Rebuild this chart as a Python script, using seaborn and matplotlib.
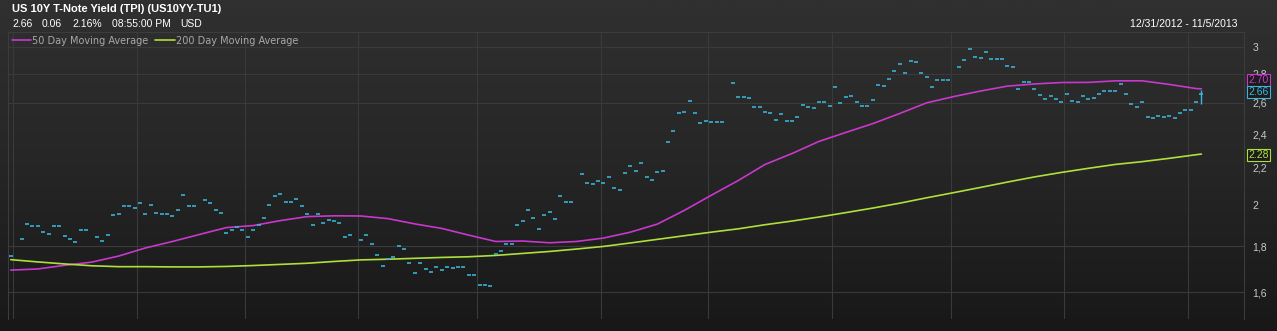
import numpy as np
import pandas as pd
import matplotlib
matplotlib.use("Agg")
import matplotlib.pyplot as plt
import matplotlib.ticker as mticker
import matplotlib.transforms as mtrans
from matplotlib.colors import LinearSegmentedColormap
import seaborn as sns

NAN = np.nan

# ---------------- data ----------------
START = "2012-12-31"
END = "2013-11-05"
title = "US 10Y T-Note Yield (TPI) (US10YY-TU1)"
quote_items = ["2.66", "0.06", "2.16%", "08:55:00 PM", "USD"]
date_range_text = "12/31/2012 - 11/5/2013"

# daily closes, one per weekday (NaN = market holiday)
yield_close = [
    1.755, NAN, 1.834, 1.905, 1.896, 1.896, 1.867, 1.857, 1.896, 1.896,
    1.846, 1.834, 1.820, 1.876, 1.876, NAN, 1.843, 1.824, 1.852, 1.951,
    1.956, 1.998, 1.994, 1.983, 2.011, 1.956, 2.000, 1.960, 1.954, 1.954,
    1.943, 1.973, 2.053, 1.998, 1.998, NAN, 2.025, 2.011, 1.975, 1.960,
    1.864, 1.878, 1.892, 1.878, 1.843, 1.878, 1.900, 1.933, 2.000, 2.046,
    2.059, 2.017, 2.017, 2.033, 1.994, 1.954, 1.902, 1.954, 1.912, 1.925,
    1.920, 1.912, 1.843, 1.854, NAN, 1.829, 1.852, 1.810, 1.762, 1.710,
    1.740, 1.751, 1.801, 1.788, 1.726, 1.680, 1.726, 1.699, 1.684, 1.706,
    1.693, 1.706, 1.703, 1.706, 1.706, 1.673, 1.673, 1.631, 1.631, 1.624,
    1.765, 1.780, 1.810, 1.810, 1.900, 1.921, 1.975, 1.935, 1.881, 1.951,
    1.966, 1.928, 2.045, 2.017, 2.017, NAN, 2.165, 2.117, 2.110, 2.126,
    2.117, 2.149, 2.091, 2.079, 2.171, 2.210, 2.181, 2.227, 2.149, 2.131,
    2.175, 2.181, 2.352, 2.417, 2.533, 2.537, 2.610, 2.533, 2.467, 2.484,
    2.475, 2.475, 2.475, NAN, 2.739, 2.637, 2.637, 2.633, 2.571, 2.571,
    2.537, 2.533, 2.487, 2.527, 2.481, 2.481, 2.508, 2.583, 2.572, 2.564,
    2.604, 2.608, 2.577, 2.708, 2.598, 2.639, 2.644, 2.604, 2.581, 2.577,
    2.617, 2.719, 2.712, 2.762, 2.820, 2.876, 2.807, 2.896, 2.884, 2.809,
    2.780, 2.708, 2.760, 2.760, 2.760, NAN, 2.848, 2.900, 2.985, 2.926,
    2.914, 2.962, 2.906, 2.906, 2.906, 2.860, 2.848, 2.694, 2.746, 2.746,
    2.694, 2.653, 2.627, 2.645, 2.623, 2.605, 2.658, 2.615, 2.605, 2.645,
    2.623, 2.632, 2.662, 2.678, 2.678, 2.683, 2.729, 2.658, 2.590, 2.575,
    2.605, 2.510, 2.499, 2.516, 2.510, 2.516, 2.499, 2.533, 2.551, 2.551,
    2.605, 2.660,
]
last_low = 2.590
last_high = 2.685

# moving averages read weekly (weekday index -> value)
ma_idx = [0, 5, 10, 15, 20, 25, 30, 35, 40, 45, 50, 55, 60, 65, 70, 75, 80,
          85, 90, 95, 100, 105, 110, 115, 120, 125, 130, 135, 140, 145, 150,
          155, 160, 165, 170, 175, 180, 185, 190, 195, 200, 205, 210, 215,
          220, 221]
ma50 = [1.693, 1.698, 1.714, 1.728, 1.755, 1.792, 1.822, 1.855, 1.888, 1.898,
        1.922, 1.942, 1.946, 1.945, 1.932, 1.906, 1.884, 1.852, 1.822, 1.824,
        1.816, 1.822, 1.838, 1.866, 1.905, 1.973, 2.051, 2.130, 2.220, 2.283,
        2.355, 2.410, 2.465, 2.530, 2.600, 2.642, 2.680, 2.714, 2.729, 2.739,
        2.740, 2.751, 2.751, 2.726, 2.697, 2.695]
ma200 = [1.739, 1.729, 1.720, 1.712, 1.708, 1.708, 1.707, 1.707, 1.709, 1.713,
         1.718, 1.723, 1.731, 1.738, 1.741, 1.745, 1.749, 1.752, 1.758, 1.767,
         1.776, 1.787, 1.799, 1.815, 1.832, 1.849, 1.866, 1.882, 1.902, 1.920,
         1.940, 1.962, 1.985, 2.010, 2.038, 2.065, 2.093, 2.122, 2.150, 2.175,
         2.198, 2.220, 2.236, 2.255, 2.276, 2.280]

ytick_vals = [1.6, 1.8, 2.0, 2.2, 2.4, 2.6, 2.8, 3.0]
ytick_labels = ["1,6", "1,8", "2", "2,2", "2,4", "2,6", "2,8", "3"]
hgrid_vals = [1.6, 1.8, 2.6, 2.8, 3.0]

badge_texts = ["2.70", "2.66", "2.28"]
badge_values = [2.70, 2.66, 2.28]

# ---------------- style ----------------
CYAN = "#3ab6dc"
MAGENTA = "#c838cc"
GREEN = "#aee03c"
GRID = "#3a3a3a"

sns.set_theme(style="dark")
plt.rcParams["font.family"] = ["Liberation Sans", "DejaVu Sans"]

W, H = 1277, 331
fig = plt.figure(figsize=(W / 100, H / 100), dpi=100)

bg = fig.add_axes([0, 0, 1, 1], zorder=-10)
grad = np.linspace(0, 1, 256).reshape(-1, 1)
bg.imshow(grad, aspect="auto", cmap=LinearSegmentedColormap.from_list(
    "bg", ["#303030", "#262626", "#181818"]), extent=[0, 1, 0, 1])
bg.axis("off")

L, R, T, B = 8, 1244, 32, 319
ax = fig.add_axes([L / W, 1 - B / H, (R - L) / W, (B - T) / H])
ax.patch.set_alpha(0)

dates = pd.bdate_range(START, END)
xpos = np.arange(len(dates))
df = pd.DataFrame({"x": xpos, "close": yield_close})
ma_df = pd.DataFrame({"x": ma_idx, "ma50": ma50, "ma200": ma200})

# month separators
month_starts = [i for i in range(1, len(dates)) if dates[i].month != dates[i - 1].month]
for m in month_starts:
    ax.axvline(m - 0.5, color=GRID, lw=0.8, zorder=1)
for h in hgrid_vals:
    ax.axhline(h, color=GRID, lw=0.8, zorder=1)

sns.lineplot(data=ma_df, x="x", y="ma50", color=MAGENTA, linewidth=1.2,
             ax=ax, label="50 Day Moving Average", zorder=3)
sns.lineplot(data=ma_df, x="x", y="ma200", color=GREEN, linewidth=1.2,
             ax=ax, label="200 Day Moving Average", zorder=3)
sns.scatterplot(data=df, x="x", y="close", marker="_", s=10, linewidth=1.15,
                color=CYAN, ax=ax, legend=False, zorder=4)
ax.vlines(xpos[-1], last_low, last_high, color=CYAN, lw=1.0, zorder=4)

ax.set_yscale("log")
ax.set_xlim(-0.52, 228.9)
ax.set_ylim(1.4935, 3.118)
ax.yaxis.tick_right()
ax.set_yticks(ytick_vals)
ax.set_yticklabels(ytick_labels)
ax.yaxis.set_minor_locator(mticker.NullLocator())
ax.tick_params(axis="y", length=0, pad=6, labelsize=7.5, labelcolor="#c8c8c8")
ax.set_xticks([])
ax.set_xlabel("")
ax.set_ylabel("")
ax.grid(False)
for side in ["left", "top", "right"]:
    ax.spines[side].set_visible(True)
    ax.spines[side].set_color("#3c3c3c")
    ax.spines[side].set_linewidth(0.8)
ax.spines["bottom"].set_visible(False)

leg = ax.legend(loc="upper left", bbox_to_anchor=(0.0, 1.0), ncol=2,
                frameon=False, handlelength=2.0, handletextpad=0.1,
                columnspacing=0.7, borderaxespad=0.1, borderpad=0.3,
                prop={"family": "DejaVu Sans", "size": 7})
for t in leg.get_texts():
    t.set_color("#a8a8a8")

# header
fig.text(12 / W, 1 - 8.5 / H, title, fontsize=8, weight="bold",
         color="white", va="center", ha="left")
quote_x = [12, 42, 72, 112, 180]
for qx, qt in zip(quote_x, quote_items):
    fig.text(qx / W, 1 - 24 / H, qt, fontsize=7.5, color="white",
             va="center", ha="left")
fig.text(1238 / W, 1 - 24 / H, date_range_text, fontsize=7.5,
         color="white", va="center", ha="right")

# value badges
trans = mtrans.blended_transform_factory(ax.transAxes, ax.transData)
badge_colors = [MAGENTA, CYAN, GREEN]
badge_dy = [5.5, 1.4, -0.7]
for txt, val, col, dy in zip(badge_texts, badge_values, badge_colors, badge_dy):
    ax.annotate(txt, xy=(1, val), xycoords=trans, xytext=(3.3, dy),
                textcoords="offset points", ha="left", va="center",
                fontsize=7.5, color=col, annotation_clip=False, zorder=6,
                bbox=dict(boxstyle="square,pad=0.12", fc="#1c1c1c",
                          ec=col, lw=0.8))

fig.savefig("out.png", dpi=100)
